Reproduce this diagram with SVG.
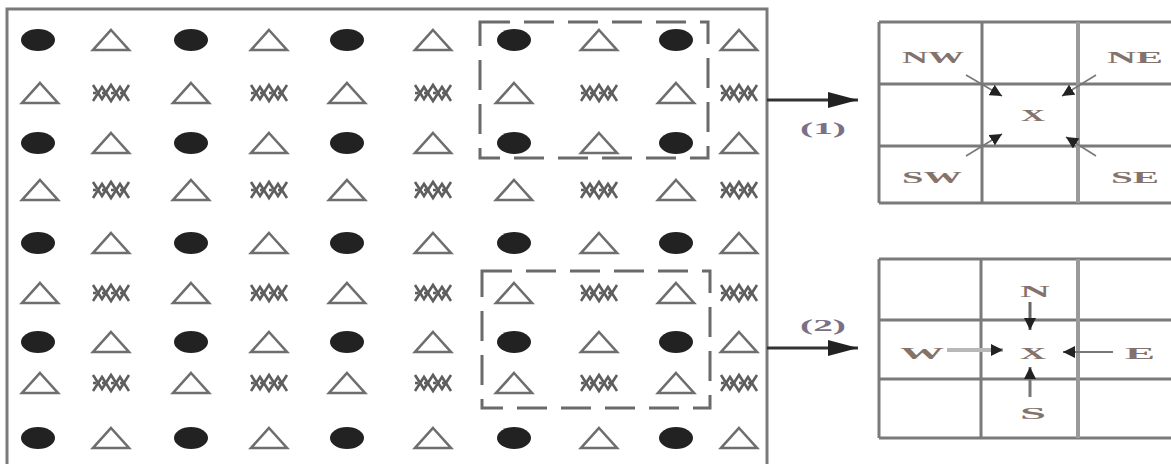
<svg xmlns="http://www.w3.org/2000/svg" width="1171" height="464" viewBox="0 0 1171 464">
<style>
.frame{fill:none;stroke:#7a7a7a;stroke-width:3}
.dash{fill:none;stroke:#6a6a6a;stroke-width:3;stroke-dasharray:30 14}
.grid{stroke:#7a7a7a;stroke-width:3;fill:none}
.gridl{stroke:#9a9a9a;stroke-width:4;fill:none}
.dot{fill:#222}
.tri{fill:#fff;stroke:#6e6e6e;stroke-width:2.6}
.hatch{fill:none;stroke:#5e5e5e;stroke-width:2.6}
.lbl{font-family:"Liberation Serif","Times New Roman",serif;font-weight:bold;font-size:16px;fill:#84736c;text-anchor:middle}
.num{font-family:"Liberation Serif","Times New Roman",serif;font-weight:bold;font-size:17px;fill:#7a7088;text-anchor:middle}
.main{stroke:#333;stroke-width:3;fill:none}
.thin{stroke:#777;stroke-width:1.5;fill:none}
</style>
<defs>
<symbol id="E" overflow="visible"><ellipse cx="0" cy="0" rx="17" ry="11" class="dot"/></symbol>
<symbol id="T" overflow="visible"><polygon points="0,-10 18,10 -18,10" class="tri"/></symbol>
<symbol id="H" overflow="visible"><polyline class="hatch" points="-18,-8 -9,6 0,-8 9,6 18,-8"/><polyline class="hatch" points="-18,8 -9,-6 0,8 9,-6 18,8"/><line class="hatch" x1="-18" y1="0" x2="18" y2="0" stroke-dasharray="3 6"/></symbol>
<marker id="big" markerUnits="userSpaceOnUse" markerWidth="32" markerHeight="18" refX="30" refY="9" orient="auto"><path d="M0,1 L30,9 L0,17 Z" fill="#222"/></marker>
<marker id="sm" markerUnits="userSpaceOnUse" markerWidth="14" markerHeight="12" refX="12" refY="6" orient="auto"><path d="M0,0 L12,6 L0,12 Z" fill="#222"/></marker>
</defs>
<g id="matrix">
<rect class="frame" x="7" y="9" width="760" height="470"/>
<g id="rows">
<use href="#E" x="38" y="40"/><use href="#T" x="111" y="40"/><use href="#E" x="191" y="40"/><use href="#T" x="269" y="40"/><use href="#E" x="347" y="40"/><use href="#T" x="433" y="40"/><use href="#E" x="514" y="40"/><use href="#T" x="599" y="40"/><use href="#E" x="676" y="40"/><use href="#T" x="739" y="40"/>
<use href="#T" x="40" y="93"/><use href="#H" x="111" y="93"/><use href="#T" x="191" y="93"/><use href="#H" x="269" y="93"/><use href="#T" x="347" y="93"/><use href="#H" x="433" y="93"/><use href="#T" x="514" y="93"/><use href="#H" x="599" y="93"/><use href="#T" x="676" y="93"/><use href="#H" x="739" y="93"/>
<use href="#E" x="38" y="143"/><use href="#T" x="111" y="143"/><use href="#E" x="191" y="143"/><use href="#T" x="269" y="143"/><use href="#E" x="347" y="143"/><use href="#T" x="433" y="143"/><use href="#E" x="514" y="143"/><use href="#T" x="599" y="143"/><use href="#E" x="676" y="143"/><use href="#T" x="739" y="143"/>
<use href="#T" x="40" y="190"/><use href="#H" x="111" y="190"/><use href="#T" x="191" y="190"/><use href="#H" x="269" y="190"/><use href="#T" x="347" y="190"/><use href="#H" x="433" y="190"/><use href="#T" x="514" y="190"/><use href="#H" x="599" y="190"/><use href="#T" x="676" y="190"/><use href="#H" x="739" y="190"/>
<use href="#E" x="38" y="243"/><use href="#T" x="111" y="243"/><use href="#E" x="191" y="243"/><use href="#T" x="269" y="243"/><use href="#E" x="347" y="243"/><use href="#T" x="433" y="243"/><use href="#E" x="514" y="243"/><use href="#T" x="599" y="243"/><use href="#E" x="676" y="243"/><use href="#T" x="739" y="243"/>
<use href="#T" x="40" y="293"/><use href="#H" x="111" y="293"/><use href="#T" x="191" y="293"/><use href="#H" x="269" y="293"/><use href="#T" x="347" y="293"/><use href="#H" x="433" y="293"/><use href="#T" x="514" y="293"/><use href="#H" x="599" y="293"/><use href="#T" x="676" y="293"/><use href="#H" x="739" y="293"/>
<use href="#E" x="38" y="342"/><use href="#T" x="111" y="342"/><use href="#E" x="191" y="342"/><use href="#T" x="269" y="342"/><use href="#E" x="347" y="342"/><use href="#T" x="433" y="342"/><use href="#E" x="514" y="342"/><use href="#T" x="599" y="342"/><use href="#E" x="676" y="342"/><use href="#T" x="739" y="342"/>
<use href="#T" x="40" y="383"/><use href="#H" x="111" y="383"/><use href="#T" x="191" y="383"/><use href="#H" x="269" y="383"/><use href="#T" x="347" y="383"/><use href="#H" x="433" y="383"/><use href="#T" x="514" y="383"/><use href="#H" x="599" y="383"/><use href="#T" x="676" y="383"/><use href="#H" x="739" y="383"/>
<use href="#E" x="38" y="438"/><use href="#T" x="111" y="438"/><use href="#E" x="191" y="438"/><use href="#T" x="269" y="438"/><use href="#E" x="347" y="438"/><use href="#T" x="433" y="438"/><use href="#E" x="514" y="438"/><use href="#T" x="599" y="438"/><use href="#E" x="676" y="438"/><use href="#T" x="739" y="438"/>
</g>
</g>
<g id="window1"><rect class="dash" x="480" y="22" width="228" height="136"/></g>
<g id="window2"><rect class="dash" x="482" y="271" width="228" height="137"/></g>
<g id="grid1">
<path class="grid" d="M879,22 H1171 M879,84 H1171 M879,146 H1171 M879,203 H1171 M879,22 V203 M982,22 V203"/>
<path class="gridl" d="M1078,22 V203"/>
<text class="lbl" x="933" y="63" textLength="62" lengthAdjust="spacingAndGlyphs">NW</text>
<text class="lbl" x="1135" y="63" textLength="56" lengthAdjust="spacingAndGlyphs">NE</text>
<text class="lbl" x="1033" y="121" textLength="24" lengthAdjust="spacingAndGlyphs">X</text>
<text class="lbl" x="932" y="183" textLength="60" lengthAdjust="spacingAndGlyphs">SW</text>
<text class="lbl" x="1135" y="183" textLength="48" lengthAdjust="spacingAndGlyphs">SE</text>
</g>
<g id="grid2">
<path class="grid" d="M879,259 H1171 M879,320 H1171 M879,379 H1171 M879,438 H1171 M879,259 V438 M981,259 V438"/>
<path class="gridl" d="M1078,259 V438"/>
<text class="lbl" x="1035" y="297" textLength="30" lengthAdjust="spacingAndGlyphs">N</text>
<text class="lbl" x="922" y="359" textLength="44" lengthAdjust="spacingAndGlyphs">W</text>
<text class="lbl" x="1033" y="359" textLength="26" lengthAdjust="spacingAndGlyphs">X</text>
<text class="lbl" x="1140" y="359" textLength="30" lengthAdjust="spacingAndGlyphs">E</text>
<text class="lbl" x="1033" y="419" textLength="26" lengthAdjust="spacingAndGlyphs">S</text>
</g>
<g id="connectors">
<line class="main" x1="767" y1="100" x2="858" y2="100" marker-end="url(#big)"/>
<line class="main" x1="767" y1="348" x2="858" y2="348" marker-end="url(#big)"/>
<text class="num" x="823" y="134" textLength="46" lengthAdjust="spacingAndGlyphs">(1)</text>
<text class="num" x="823" y="331" textLength="46" lengthAdjust="spacingAndGlyphs">(2)</text>
<line class="thin" x1="966" y1="75" x2="1002" y2="96" marker-end="url(#sm)"/>
<line class="thin" x1="1096" y1="75" x2="1062" y2="96" marker-end="url(#sm)"/>
<line class="thin" x1="966" y1="156" x2="1002" y2="134" marker-end="url(#sm)"/>
<line class="thin" x1="1096" y1="156" x2="1066" y2="137" marker-end="url(#sm)"/>
<line x1="1030" y1="302" x2="1030" y2="330" stroke="#666" stroke-width="3" marker-end="url(#sm)"/>
<line x1="947" y1="350" x2="1003" y2="350" stroke="#b8b8b8" stroke-width="4" marker-end="url(#sm)"/>
<line x1="1113" y1="352" x2="1063" y2="352" stroke="#777" stroke-width="2" marker-end="url(#sm)"/>
<line x1="1030" y1="397" x2="1030" y2="367" stroke="#777" stroke-width="3" marker-end="url(#sm)"/>
</g>
</svg>
